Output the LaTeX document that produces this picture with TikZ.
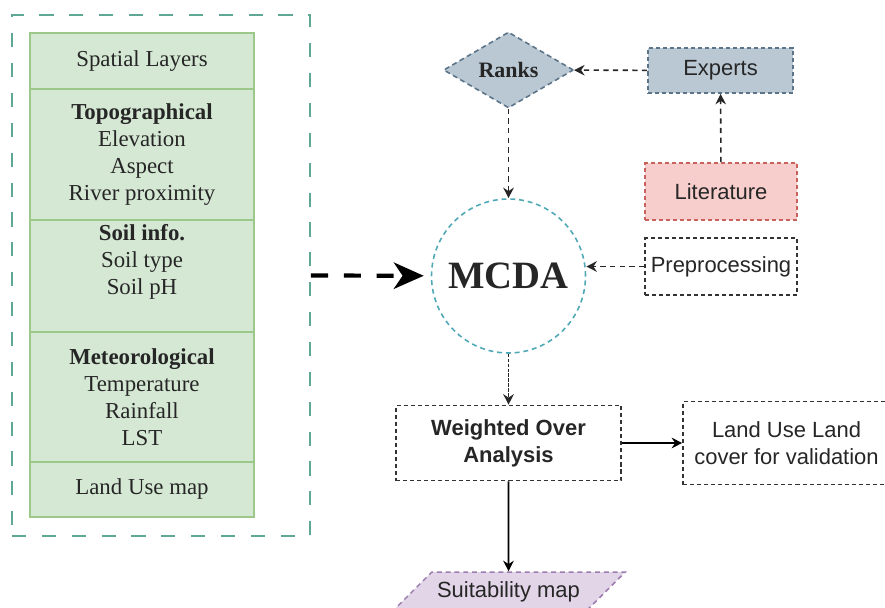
\documentclass[tikz,border=0pt]{standalone}
\usepackage{fontspec}
\setmainfont{Liberation Serif}
\setsansfont{Liberation Sans}
\usetikzlibrary{shapes.geometric,arrows.meta}

\definecolor{cellfill}{HTML}{D5E8D4}
\definecolor{celldraw}{HTML}{9CC98A}
\definecolor{outerteal}{HTML}{5FA896}
\definecolor{mcdateal}{HTML}{4FA8B6}
\definecolor{rankfill}{HTML}{BAC8D3}
\definecolor{rankdraw}{HTML}{5B7489}
\definecolor{litfill}{HTML}{F8CECC}
\definecolor{litdraw}{HTML}{C9625D}
\definecolor{suitfill}{HTML}{E1D5E7}
\definecolor{suitdraw}{HTML}{9C7CB0}
\definecolor{inkgray}{HTML}{262626}

\begin{document}
\begin{tikzpicture}[>={Stealth[length=6pt,width=6pt]},line width=0.9pt,
  serif13/.style={font=\fontsize{13}{15.4}\selectfont},
  sans12/.style={font=\sffamily\fontsize{12.5}{15.4}\selectfont},
  cell/.style={draw=celldraw,fill=cellfill,minimum width=4.48cm,inner sep=0pt,
    align=center,text=inkgray,serif13},
  box/.style={draw=black!80,dash pattern=on 2.3pt off 1.7pt,inner sep=0pt,
    align=center,text=inkgray,sans12},
  link/.style={->,draw=black!85,dash pattern=on 3pt off 2.5pt}]
  \useasboundingbox (0,0) rectangle (17.7,-12.16);

  % Spatial layers
  \node[draw=outerteal,line width=1.1pt,dash pattern=on 8pt off 9pt,
    minimum width=5.96cm,minimum height=10.42cm] (layers) at (3.22,-5.51) {};
  \node[cell,minimum height=1.12cm] (title) at (2.84,-1.22) {Spatial Layers};
  \node[cell,minimum height=2.62cm] (topo) at (2.84,-3.09)
    {\textbf{Topographical}\\Elevation\\Aspect\\River proximity};
  \node[cell,minimum height=2.24cm] (soil) at (2.84,-5.52) {};
  \node[align=center,text=inkgray,serif13] (soiltxt) at (2.84,-5.24)
    {\textbf{Soil info.}\\Soil type\\Soil pH};
  \node[cell,minimum height=2.60cm] (meteo) at (2.84,-7.94)
    {\textbf{Meteorological}\\Temperature\\Rainfall\\LST};
  \node[cell,minimum height=1.10cm] (landuse) at (2.84,-9.79) {Land Use map};

  % Nodes
  \node[circle,draw=mcdateal,dash pattern=on 2.8pt off 2.2pt,minimum size=3.08cm,
    inner sep=0pt,text=inkgray,font=\fontsize{22}{24}\selectfont\bfseries] (mcda) at (10.17,-5.52) {MCDA};
  \node[diamond,draw=rankdraw,fill=rankfill,dash pattern=on 2.8pt off 2pt,
    minimum width=2.6cm,minimum height=1.52cm,inner sep=0pt,text=inkgray,
    font=\fontsize{12.5}{14}\selectfont\bfseries] (ranks) at (10.17,-1.40) {Ranks};
  \node[box,draw=rankdraw,fill=rankfill,minimum width=2.9cm,minimum height=0.9cm] (experts) at (14.41,-1.41) {Experts};
  \node[box,draw=litdraw,fill=litfill,minimum width=3.04cm,minimum height=1.14cm] (lit) at (14.42,-3.83) {Literature};
  \node[box,minimum width=3.04cm,minimum height=1.14cm] (prep) at (14.42,-5.33) {Preprocessing};
  \node[box,minimum width=4.5cm,minimum height=1.5cm,font=\sffamily\bfseries\fontsize{12.5}{15.4}\selectfont] (woa) at (10.17,-8.86)
    {Weighted Over\\Analysis};
  \node[box,minimum width=4.14cm,minimum height=1.66cm] (lulc) at (15.73,-8.86)
    {Land Use Land\\cover for validation};
  \node[trapezium,trapezium left angle=45,trapezium right angle=135,
    draw=suitdraw,fill=suitfill,dash pattern=on 2.8pt off 2.2pt,
    text height=9pt,text depth=2.7pt,inner xsep=3pt,inner ysep=5.5pt,
    text=inkgray,sans12] (suit) at (10.17,-11.84) {Suitability map};

  % Arrows
  \draw[->,line width=2.4pt,dash pattern=on 9.7pt off 9pt,
    >={Stealth[length=17pt,width=15pt,inset=5pt]},shorten >=4pt] (layers.east) -- (mcda);
  \draw[link] (experts) -- (ranks);
  \draw[link] (lit) -- (experts);
  \draw[link] (ranks) -- (mcda);
  \draw[link] (prep.west) -- (prep.west -| mcda.east);
  \draw[link,dash pattern=on 2pt off 0.8pt] (mcda) -- (woa);
  \draw[->] (woa) -- (lulc);
  \draw[->] (woa) -- (suit);
\end{tikzpicture}
\end{document}
